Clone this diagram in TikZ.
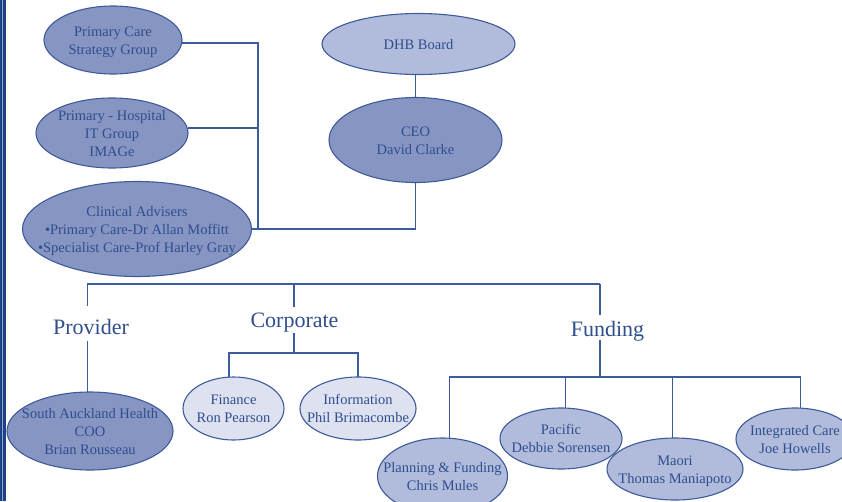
\documentclass[tikz,border=0pt]{standalone}
\usepackage{fontspec}
\setmainfont{Liberation Serif}
\usepackage{xcolor}
\usetikzlibrary{shapes.geometric}

\definecolor{barnavy}{HTML}{1E4384}
\definecolor{barlight}{HTML}{8FA6D2}
\definecolor{linecol}{HTML}{3D5C9E}
\definecolor{txtcol}{HTML}{2F4E8E}
\definecolor{edgecol}{HTML}{3F5A9A}
\definecolor{filldark}{HTML}{8795C2}
\definecolor{fillmid}{HTML}{B1BBDB}
\definecolor{filllight}{HTML}{DDE1F0}

%% centred text that does not widen the ellipse
\newcommand{\elltxt}[1]{\makebox[0pt]{\smash{\raisebox{-5pt}{\begin{tabular}{@{}c@{}}#1\end{tabular}}}}}

\tikzset{
  orgell/.style={ellipse, draw=edgecol, line width=1.1pt, inner sep=0pt, outer sep=0pt,
    text=txtcol, font=\fontsize{14.5}{18}\selectfont},
  darkell/.style={orgell, fill=filldark},
  midell/.style={orgell, fill=fillmid},
  lightell/.style={orgell, fill=filllight},
  branch/.style={text=txtcol, font=\fontsize{22}{26}\selectfont, inner sep=0pt, anchor=base},
  link/.style={draw=linecol, line width=1.2pt},
}

\begin{document}
\begin{tikzpicture}[x=1pt, y=-1pt]
  \useasboundingbox (0,0) rectangle (842,501);
  \clip (0,0) rectangle (842,501);

  %% Left edge bar
  \fill[barnavy] (0,0) rectangle (6.3,501);
  \draw[barlight, line width=0.9pt] (2.2,0) -- (2.2,501);

  %% Advisory groups
  \node[darkell, minimum width=138pt, minimum height=68pt] (pcsg) at (113,40)
    {\elltxt{Primary Care\\Strategy Group}};
  \node[darkell, minimum width=152pt, minimum height=70pt] (phit) at (112,133)
    {\elltxt{Primary - Hospital\\IT Group\\IMAGe}};
  \node[darkell, minimum width=229pt, minimum height=95pt] (clin) at (137,229)
    {\elltxt{Clinical Advisers\\\textbullet Primary Care-Dr Allan Moffitt\\\textbullet Specialist Care-Prof Harley Gray}};

  %% Board and CEO
  \node[midell, minimum width=193pt, minimum height=61pt] (board) at (418.5,44)
    {\elltxt{DHB Board}};
  \node[darkell, minimum width=173pt, minimum height=85pt] (ceo) at (415.5,140)
    {\elltxt{CEO\\David Clarke}};

  %% Branch labels
  \node[branch, text height=28pt, text depth=7pt] (prov) at (91,334) {Provider};
  \node[branch, text height=20pt, text depth=6pt] (corp) at (294.5,327) {Corporate};
  \node[branch, text height=21pt, text depth=4pt] (fund) at (607.5,336) {Funding};

  %% Provider
  \node[darkell, minimum width=166pt, minimum height=78pt] (sah) at (90,431)
    {\elltxt{South Auckland Health\\COO\\Brian Rousseau}};

  %% Corporate
  \node[lightell, minimum width=101pt, minimum height=63pt] (fin) at (233.5,408.5)
    {\elltxt{Finance\\Ron Pearson}};
  \node[lightell, minimum width=116pt, minimum height=63pt] (info) at (358,408.5)
    {\elltxt{Information\\Phil Brimacombe}};

  %% Funding
  \node[midell, minimum width=130pt, minimum height=76pt] (plan) at (442.5,476)
    {\elltxt{Planning \& Funding\\Chris Mules}};
  \node[midell, minimum width=122pt, minimum height=61pt] (pac) at (561,438.5)
    {\elltxt{Pacific\\Debbie Sorensen}};
  \node[midell, minimum width=136pt, minimum height=62pt] (maori) at (675,469)
    {\elltxt{Maori\\Thomas Maniapoto}};
  \node[midell, minimum width=118pt, minimum height=62pt] (intc) at (795,439)
    {\elltxt{Integrated Care\\Joe Howells}};

  %% Upper connectors
  \coordinate (jn) at (258,229);
  \draw[link] (ceo.north) -- (ceo.north |- board.south);
  \draw[link] ([yshift=-3pt]pcsg.east) -| (jn);
  \draw[link] ([yshift=5pt]phit.east) -- ([yshift=5pt]phit.east -| jn);
  \draw[link] (clin.east) -- (jn) -| (ceo.south);

  %% Lower bus
  \coordinate (bus) at (0,284);
  \coordinate (cj) at (294,353);
  \coordinate (fj) at (600,377);
  \draw[link] (sah.94 |- bus) -- (fj |- bus);
  \draw[link] (sah.94 |- bus) -- (sah.94 |- prov.north);
  \draw[link] (sah.94 |- prov.south) -- (sah.94);
  \draw[link] (cj |- bus) -- (cj |- corp.north);
  \draw[link] (cj |- corp.south) -- (cj);
  \draw[link] (fin.98) |- (cj) -| (info.north);
  \draw[link] (fj |- bus) -- (fj |- fund.north);
  \draw[link] (fj |- fund.south) -- (fj);
  \draw[link] (plan.80) |- (fj) -| (intc.80);
  \draw[link] (pac.82) -- (pac.82 |- fj);
  \draw[link] (maori.95) -- (maori.95 |- fj);
\end{tikzpicture}
\end{document}
